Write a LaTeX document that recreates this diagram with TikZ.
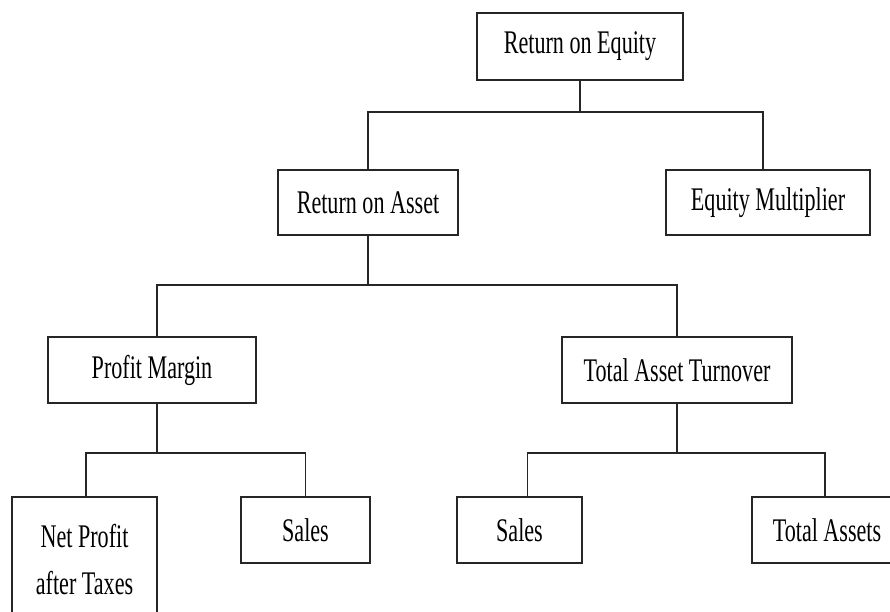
\documentclass[tikz,border=0pt]{standalone}
\usepackage{fontspec}
\setmainfont{Liberation Serif}[FakeStretch=0.67]

\begin{document}
\begin{tikzpicture}[
    x=1pt,y=-1pt,
    box/.style={draw=black!85,line width=1.6pt,inner sep=0pt,align=center,
      font=\fontsize{33}{47}\selectfont},
    line/.style={line width=1.2pt, black!85}
    ]
    \useasboundingbox (0,0) rectangle (890,612);
    \node[box,minimum width=206,minimum height=67] (roe) at (580,46.5) {Return on Equity};
    \node[box,minimum width=180,minimum height=65] (roa) at (368,202.5) {Return on Asset};
    \node[box,minimum width=204,minimum height=65] (em) at (768,202.5) {Equity Multiplier};
    \node[box,minimum width=208,minimum height=66] (pm) at (152,370) {Profit Margin};
    \node[box,minimum width=230,minimum height=66] (tat) at (677,370) {Total Asset Turnover};
    \node[box,minimum width=145,minimum height=126] (np) at (84.5,560) {Net Profit\\after Taxes};
    \node[box,minimum width=129,minimum height=66] (sl) at (305.5,530) {Sales};
    \node[box,minimum width=125,minimum height=66] (sr) at (519.5,530) {Sales};
    \node[box,minimum width=150,minimum height=66] (ta) at (827,530) {Total Assets};
    % joints
    \coordinate (j1) at (580,112);
    \coordinate (j2) at (368,285);
    \coordinate (j3) at (157,453);
    \coordinate (j4) at (677,453);
    \draw[line] (roe.south) -- (j1);
    \draw[line] (roa.north) |- (j1) -| ([xshift=-5pt]em.north);
    \draw[line] (roa.south) -- (j2);
    \draw[line] ([xshift=5pt]pm.north) |- (j2) -| (tat.north);
    \draw[line] ([xshift=5pt]pm.south) -- (j3);
    \draw[line] ([xshift=1.5pt]np.north) |- (j3) -| (sl.north);
    \draw[line] (tat.south) -- (j4);
    \draw[line] ([xshift=8pt]sr.north) |- (j4) -| ([xshift=-2pt]ta.north);
\end{tikzpicture}
\end{document}
